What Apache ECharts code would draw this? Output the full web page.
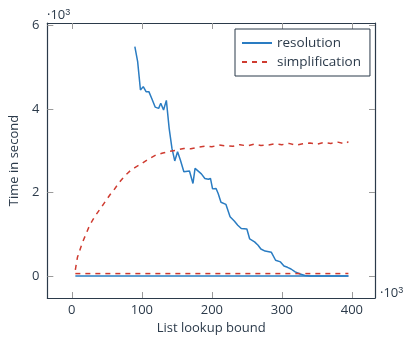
<!DOCTYPE html>
<html>
<head>
<meta charset="utf-8">
<script src="https://cdn.jsdelivr.net/npm/echarts@6/dist/echarts.min.js"></script>
<style>
  html, body { margin: 0; padding: 0; background: #fff; }
  #chart { width: 405px; height: 340px; }
</style>
</head>
<body>
<div id="chart"></div>
<script>
// values (y in seconds)
const resX = [90, 94, 98, 102, 106, 110, 114, 119, 124, 127, 131, 135, 139, 143, 147, 151, 155, 160, 168, 173, 176, 185, 190, 195, 198, 201, 206, 209, 213, 220, 226, 232, 237, 242, 250, 254, 261, 266, 270, 276, 285, 291, 298, 303, 308, 313, 319, 326, 333, 340, 395];
const resY = [5500, 5140, 4460, 4540, 4420, 4420, 4260, 4050, 4020, 4140, 3980, 4210, 3540, 3060, 2760, 2980, 2780, 2500, 2520, 2220, 2580, 2450, 2340, 2320, 2340, 2090, 2100, 1980, 1770, 1720, 1420, 1320, 1220, 1140, 1130, 890, 820, 740, 650, 600, 570, 380, 340, 240, 210, 170, 100, 50, 15, 0, 0];

const simpX = [5, 8, 12, 15, 20, 25, 30, 35, 40, 45, 50, 55, 60, 65, 70, 75, 80, 85, 90, 100, 110, 120, 130, 140, 150, 160, 170, 180, 190, 200, 210, 220, 230, 240, 250, 260, 270, 280, 290, 300, 310, 320, 330, 340, 350, 360, 370, 380, 390, 395];
const simpY = [150, 450, 650, 800, 1000, 1200, 1350, 1480, 1600, 1720, 1840, 1960, 2060, 2180, 2290, 2390, 2470, 2550, 2600, 2700, 2810, 2900, 2950, 2990, 3020, 3060, 3050, 3090, 3110, 3100, 3140, 3120, 3110, 3150, 3120, 3160, 3130, 3140, 3170, 3150, 3180, 3140, 3170, 3190, 3160, 3200, 3180, 3210, 3170, 3220];

const baseX = [5, 395];
const resBase = [0, 0];
const simpBase = [60, 60];

const xTicks = [0, 100, 200, 300, 400];
const yTicks = [0, 2000, 4000, 6000];

const blue = '#2a7cc2';
const red = '#cf3b30';
const ink = '#2b3a4a';
const font = 'Open Sans';

const pairs = (xs, ys) => xs.map((x, i) => [x, ys[i]]);

const xMin = -35, xMax = 433, yMin = -525, yMax = 6065;
const tickStyle = { color: '#9a9a9a', width: 1 };
const dash = [5, 5];

function frameAxis(extra) {
  return Object.assign({
    type: 'value',
    axisLine: { show: true, onZero: false, lineStyle: { color: ink, width: 1.2 } },
    splitLine: { show: false }
  }, extra);
}

const chart = echarts.init(document.getElementById('chart'), null, { renderer: 'canvas' });

chart.setOption({
  animation: false,
  textStyle: { fontFamily: font },
  grid: { left: 44, right: 30, top: 23, bottom: 42, containLabel: false },
  xAxis: [
    frameAxis({
      min: xMin, max: xMax, position: 'bottom',
      name: 'List lookup bound', nameLocation: 'middle', nameGap: 23,
      nameTextStyle: { color: ink, fontSize: 13, fontFamily: font },
      axisTick: { show: true, inside: true, length: 6, customValues: xTicks, lineStyle: tickStyle },
      axisLabel: { customValues: xTicks, color: ink, fontSize: 13, margin: 6, fontFamily: font }
    }),
    frameAxis({
      min: xMin, max: xMax, position: 'top',
      axisTick: { show: true, inside: true, length: 6, customValues: xTicks, lineStyle: tickStyle },
      axisLabel: { show: false }
    })
  ],
  yAxis: [
    frameAxis({
      min: yMin, max: yMax, position: 'left',
      name: 'Time in second', nameLocation: 'middle', nameGap: 25,
      nameTextStyle: { color: ink, fontSize: 13, fontFamily: font },
      axisTick: { show: true, inside: true, length: 6, customValues: yTicks, lineStyle: tickStyle },
      axisLabel: { customValues: yTicks, color: ink, fontSize: 13, margin: 8, fontFamily: font,
        formatter: v => String(v / 1000) }
    }),
    frameAxis({
      min: yMin, max: yMax, position: 'right',
      axisTick: { show: true, inside: true, length: 6, customValues: yTicks, lineStyle: tickStyle },
      axisLabel: { show: false }
    })
  ],
  legend: {
    orient: 'vertical', left: 235, top: 29,
    padding: [7, 9, 7, 6], itemGap: 5,
    itemWidth: 30, itemHeight: 12,
    itemStyle: { opacity: 0 },
    borderColor: ink, borderWidth: 1, borderRadius: 0,
    textStyle: { color: ink, fontSize: 13.5, fontFamily: font },
    data: ['resolution', 'simplification']
  },
  graphic: [
    { type: 'text', left: 47, top: 8,
      style: { text: '·10{s|3}', fill: ink, font: '13px "Open Sans"',
        rich: { s: { fontSize: 9, verticalAlign: 'top', fill: ink, padding: [0, 0, 6, 0] } } } },
    { type: 'text', left: 380, top: 286,
      style: { text: '·10{s|3}', fill: ink, font: '13px "Open Sans"',
        rich: { s: { fontSize: 9, verticalAlign: 'top', fill: ink, padding: [0, 0, 6, 0] } } } }
  ],
  series: [
    { name: 'resolution', type: 'line', data: pairs(resX, resY), showSymbol: false, symbol: 'none',
      lineStyle: { color: blue, width: 1.5 }, itemStyle: { color: blue } },
    { name: 'simplification', type: 'line', data: pairs(simpX, simpY), showSymbol: false, symbol: 'none',
      lineStyle: { color: red, width: 1.5, type: dash }, itemStyle: { color: red } },
    { name: 'resolution', type: 'line', data: pairs(baseX, resBase), showSymbol: false, symbol: 'none',
      lineStyle: { color: blue, width: 1.5 }, itemStyle: { color: blue } },
    { name: 'simplification', type: 'line', data: pairs(baseX, simpBase), showSymbol: false, symbol: 'none',
      lineStyle: { color: red, width: 1.5, type: dash }, itemStyle: { color: red } }
  ]
});
</script>
</body>
</html>
